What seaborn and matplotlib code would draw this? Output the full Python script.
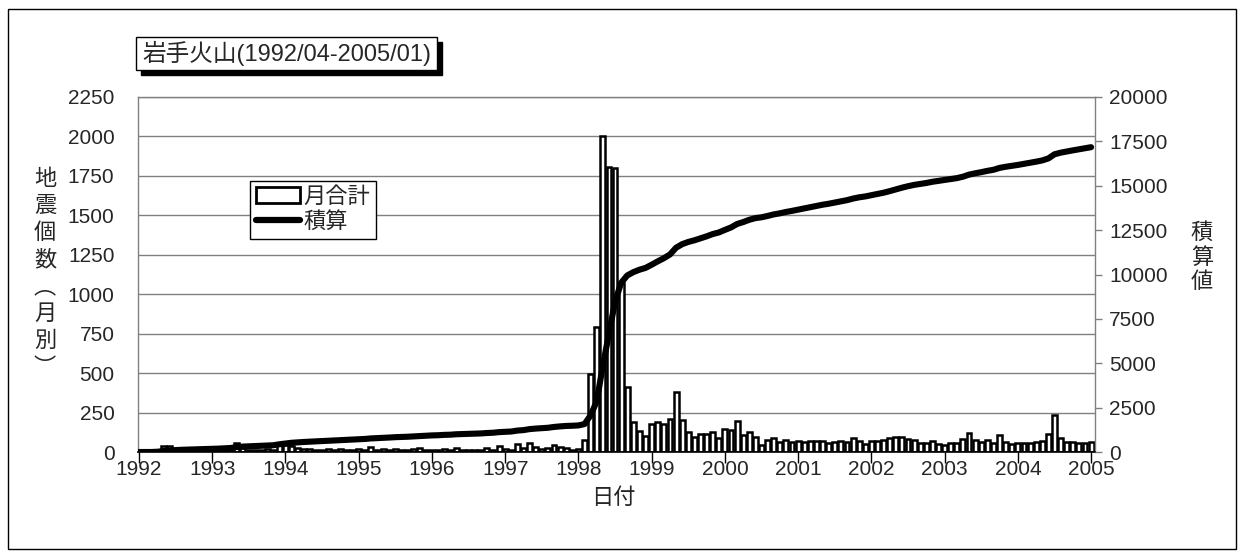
import numpy as np
import pandas as pd
import matplotlib
matplotlib.use("Agg")
import matplotlib.pyplot as plt
import seaborn as sns
from matplotlib.patches import Rectangle, Patch
from matplotlib.lines import Line2D

# monthly earthquake counts, 1992/01 .. 2005/01
v1992 = [0, 0, 0, 15, 35, 40, 20, 15, 10, 15, 10, 10]
v1993 = [10, 10, 15, 20, 55, 25, 15, 10, 15, 20, 15, 55]
v1994 = [45, 40, 25, 20, 20, 15, 15, 20, 15, 20, 15, 15]
v1995 = [20, 15, 30, 15, 20, 15, 20, 10, 15, 20, 25, 15]
v1996 = [15, 10, 20, 10, 25, 10, 10, 10, 15, 25, 15, 35]
v1997 = [20, 15, 53, 25, 57, 30, 20, 25, 46, 32, 25, 10]
v1998 = [20, 75, 494, 792, 2000, 1806, 1800, 1070, 411, 188, 135, 103]
v1999 = [180, 190, 175, 212, 380, 200, 125, 92, 112, 112, 128, 90]
v2000 = [145, 138, 195, 108, 128, 96, 45, 76, 86, 62, 76, 62]
v2001 = [70, 66, 70, 70, 70, 55, 66, 70, 66, 90, 70, 50]
v2002 = [68, 68, 74, 88, 98, 96, 84, 74, 54, 54, 68, 50]
v2003 = [45, 55, 55, 80, 118, 74, 64, 74, 60, 106, 64, 50]
v2004 = [54, 60, 60, 64, 70, 112, 234, 90, 66, 64, 60, 56]
v2005 = [64]

years = list(range(1992, 2006))
monthly = v1992 + v1993 + v1994 + v1995 + v1996 + v1997 + v1998 + \
    v1999 + v2000 + v2001 + v2002 + v2003 + v2004 + v2005
labels = [f"{y}/{m:02d}" for y in years for m in range(1, 13)][:len(monthly)]

df = pd.DataFrame({"month": labels, "count": monthly})
df["pos"] = np.arange(len(df))
df["cum"] = df["count"].cumsum()

W, H = 1242, 560

sns.set_theme(style="white")
plt.rcParams["font.family"] = ["Liberation Sans", "Noto Sans CJK JP"]
plt.rcParams["font.size"] = 15

fig = plt.figure(figsize=(W / 100, H / 100), dpi=100)
ax = fig.add_axes([138 / W, 1 - 452 / H, (1095 - 138) / W, (452 - 97) / H])

sns.barplot(data=df, x="month", y="count", order=labels, ax=ax,
            color="white", edgecolor="black", linewidth=1.8,
            width=0.8, saturation=1, errorbar=None)

ax.set_xlim(-0.164, 156.64)
ax.set_ylim(0, 2250)
ax.set_yticks(np.arange(0, 2251, 250))
ax.set_xticks(df["pos"][::12])
ax.set_xticklabels([str(y) for y in years])
ax.set_xlabel("")
ax.set_ylabel("")
ax.grid(axis="y", color="#808080", linewidth=1)
ax.grid(axis="x", visible=False)
ax.set_axisbelow(True)
ax.tick_params(axis="x", length=8, width=1, color="black", pad=-2,
               labelsize=15, bottom=True)
ax.tick_params(axis="y", length=0, pad=17, labelsize=15)
for s in ["left", "top", "right"]:
    ax.spines[s].set_color("#808080")
    ax.spines[s].set_linewidth(1)
ax.spines["bottom"].set_color("black")
ax.spines["bottom"].set_linewidth(1.2)

ax2 = ax.twinx()
sns.lineplot(data=df, x="pos", y="cum", ax=ax2, color="black",
             linewidth=4.4, solid_joinstyle="round")
ax2.set_ylim(0, 20000)
ax2.set_yticks(np.arange(0, 20001, 2500))
ax2.set_xlim(-0.164, 156.64)
ax2.set_ylabel("")
ax2.set_xlabel("")
ax2.grid(False)
ax2.tick_params(axis="y", length=5, width=1, color="#808080", pad=5,
                labelsize=15, right=True)
for s in ax2.spines.values():
    s.set_visible(False)

# legend
handles = [Patch(facecolor="white", edgecolor="black", linewidth=2),
           Line2D([0], [0], color="black", linewidth=4.5)]
leg = ax2.legend(handles, ["月合計", "積算"], loc="upper left",
                 bbox_to_anchor=(250 / W, 1 - 181 / H),
                 bbox_transform=fig.transFigure, borderaxespad=0,
                 fancybox=False, framealpha=1, edgecolor="black",
                 fontsize=16, handlelength=2.0, handletextpad=0.15,
                 borderpad=0.25, labelspacing=0.2)
leg.get_frame().set_linewidth(1)

# title box with shadow
def fbox(x0, y0, x1, y1, **kw):
    return Rectangle((x0 / W, 1 - y1 / H), (x1 - x0) / W, (y1 - y0) / H,
                     transform=fig.transFigure, **kw)

fig.patches.append(fbox(141, 42, 442, 75, facecolor="black", edgecolor="black"))
fig.patches.append(fbox(136, 37, 437, 70, facecolor="white", edgecolor="black", linewidth=1))
fig.text(142 / W, 1 - 53.5 / H, "岩手火山(1992/04-2005/01)", fontsize=17,
         ha="left", va="center")

# outer chart frame
fig.patches.append(fbox(8, 9, 1236, 549, facecolor="none", edgecolor="black", linewidth=1))

# axis titles
fig.text(45 / W, 1 - 274 / H, "地\n震\n個\n数\n︵\n月\n別\n︶", fontsize=16,
         ha="center", va="center", linespacing=1.38)
fig.text(1202 / W, 1 - 258 / H, "積\n算\n値", fontsize=16,
         ha="center", va="center", linespacing=1.2)
fig.text(613 / W, 1 - 499 / H, "日付", fontsize=16, ha="center", va="center")

fig.savefig("out.png", dpi=100)
